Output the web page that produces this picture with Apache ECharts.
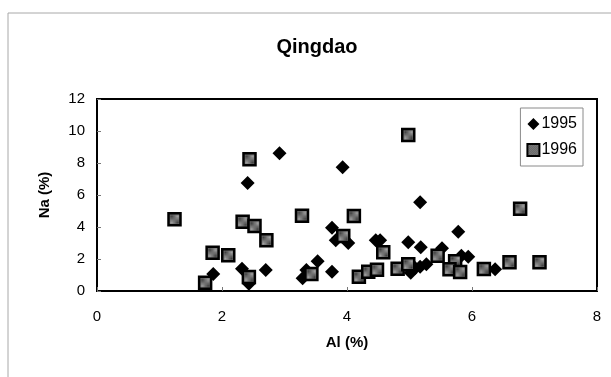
<!DOCTYPE html>
<html>
<head>
<meta charset="utf-8">
<script src="https://cdn.jsdelivr.net/npm/echarts@6/dist/echarts.min.js"></script>
<style>
  html, body { margin: 0; padding: 0; background: #fff; }
  #chart { width: 611px; height: 377px; }
</style>
</head>
<body>
<div id="chart"></div>
<script>
// Al (%) vs Na (%) samples, Qingdao
const al1995 = [1.86, 2.32, 2.43, 2.41, 2.70, 2.92, 3.93, 5.17, 5.78, 3.76, 3.82, 4.02, 4.46, 4.53,
  4.98, 5.18, 5.52, 5.83, 5.94, 6.37, 3.53, 3.35, 3.29, 3.76, 5.02, 5.09, 5.17, 5.27];
const na1995 = [1.06, 1.39, 0.45, 6.75, 1.31, 8.61, 7.73, 5.54, 3.71, 3.96, 3.17, 3.00, 3.17, 3.17,
  3.04, 2.73, 2.67, 2.21, 2.14, 1.36, 1.86, 1.31, 0.79, 1.21, 1.14, 1.44, 1.52, 1.67];

const al1996 = [1.24, 1.73, 1.85, 2.10, 2.33, 2.43, 2.44, 2.52, 2.71, 4.98, 3.28, 4.11, 3.94, 4.58,
  5.45, 5.73, 5.64, 5.81, 6.19, 6.60, 7.08, 6.77, 3.43, 4.19, 4.34, 4.48, 4.81, 4.98];
const na1996 = [4.48, 0.52, 2.39, 2.23, 4.33, 0.88, 8.23, 4.06, 3.17, 9.75, 4.71, 4.69, 3.44, 2.42,
  2.21, 1.86, 1.36, 1.19, 1.38, 1.79, 1.79, 5.14, 1.06, 0.89, 1.21, 1.33, 1.39, 1.67];

const seriesNames = ['1995', '1996'];
const xTicks = { min: 0, max: 8, interval: 2 };
const yTicks = { min: 0, max: 12, interval: 2 };

const pairs = (xs, ys) => xs.map((x, i) => [x, ys[i]]);

// small checkered fill for the square markers
const tile = document.createElement('canvas');
tile.width = 2; tile.height = 2;
const tctx = tile.getContext('2d');
tctx.fillStyle = '#a0a0a0'; tctx.fillRect(0, 0, 2, 2);
tctx.fillStyle = '#404040'; tctx.fillRect(0, 0, 1, 1); tctx.fillRect(1, 1, 1, 1);

const font = 'Arial, "Liberation Sans", sans-serif';
const chart = echarts.init(document.getElementById('chart'), null, { renderer: 'canvas' });

chart.setOption({
  backgroundColor: '#fff',
  animation: false,
  title: {
    text: 'Qingdao',
    left: 312, textAlign: 'center', top: 32,
    textStyle: { fontFamily: font, fontSize: 20, fontWeight: 'bold', color: '#000' }
  },
  graphic: [{
    type: 'rect', silent: true, z: -1,
    shape: { x: 8, y: 13, width: 700, height: 500 },
    style: { fill: 'none', stroke: '#a8a8a8', lineWidth: 1 }
  }],
  legend: {
    orient: 'vertical',
    right: 28, top: 108,
    padding: [8, 6, 8, 6],
    itemGap: 10, itemWidth: 12, itemHeight: 12,
    borderColor: '#8a8a8a', borderWidth: 1,
    textStyle: { fontFamily: font, fontSize: 16, color: '#000', padding: [0, 0, 0, -3] },
    data: seriesNames
  },
  grid: {
    left: 97, right: 14, top: 99, bottom: 86,
    show: true, borderColor: '#000', borderWidth: 2, backgroundColor: '#fff'
  },
  xAxis: {
    type: 'value',
    min: xTicks.min, max: xTicks.max, interval: xTicks.interval,
    name: 'Al (%)', nameLocation: 'middle', nameGap: 44,
    nameTextStyle: { fontFamily: font, fontSize: 15, fontWeight: 'bold', color: '#000' },
    axisLine: { show: true, lineStyle: { color: '#000', width: 2 } },
    axisTick: { show: true, inside: true, length: 4, lineStyle: { color: '#777', width: 1 } },
    axisLabel: { fontFamily: font, fontSize: 15, color: '#000', margin: 18 },
    splitLine: { show: false }
  },
  yAxis: {
    type: 'value',
    min: yTicks.min, max: yTicks.max, interval: yTicks.interval,
    name: 'Na (%)', nameLocation: 'middle', nameGap: 45, nameRotate: 90,
    nameTextStyle: { fontFamily: font, fontSize: 15, fontWeight: 'bold', color: '#000' },
    axisLine: { show: true, lineStyle: { color: '#000', width: 2 } },
    axisTick: { show: true, inside: true, length: 4, lineStyle: { color: '#777', width: 1 } },
    axisLabel: { fontFamily: font, fontSize: 15, color: '#000', margin: 12 },
    splitLine: { show: false }
  },
  series: [
    {
      name: seriesNames[0],
      type: 'scatter',
      symbol: 'diamond',
      symbolSize: 14,
      itemStyle: { color: '#000', opacity: 1 },
      data: pairs(al1995, na1995)
    },
    {
      name: seriesNames[1],
      type: 'scatter',
      symbol: 'rect',
      symbolSize: 12,
      itemStyle: {
        color: { image: tile, repeat: 'repeat' },
        borderColor: '#000', borderWidth: 2.5, opacity: 1
      },
      data: pairs(al1996, na1996)
    }
  ]
});
</script>
</body>
</html>
